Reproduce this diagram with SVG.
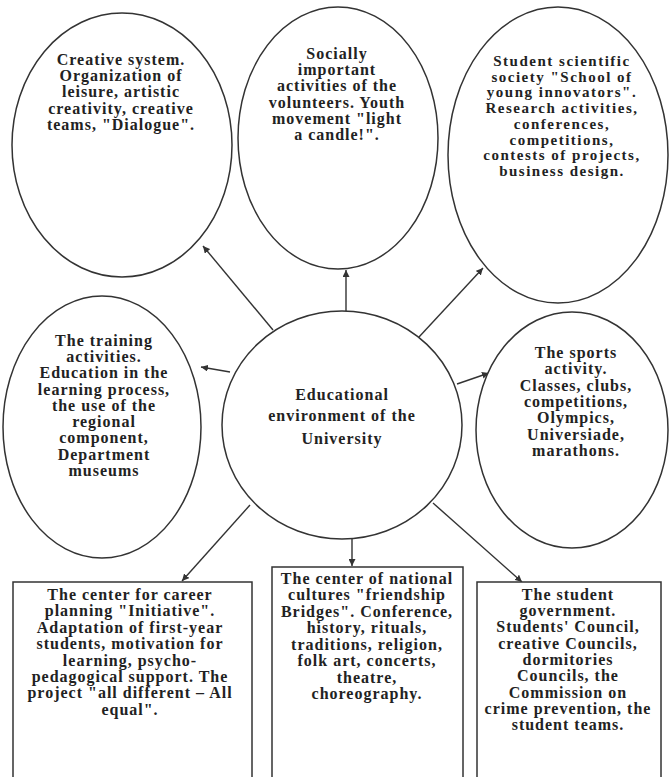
<svg xmlns="http://www.w3.org/2000/svg" width="670" height="777" viewBox="0 0 670 777">
<style>
.shape{fill:#fff;stroke:#333;stroke-width:1.5}
.t{font-family:"Liberation Serif","Times New Roman",serif;font-weight:bold;font-size:16px;letter-spacing:1px;fill:#222;text-anchor:middle}
.s{font-size:15px;letter-spacing:1.5px}
.c{stroke:#333;stroke-width:1.4;fill:none;marker-end:url(#ah)}
</style>
<defs>
<marker id="ah" viewBox="0 0 10 10" refX="10" refY="5" markerWidth="7" markerHeight="7" markerUnits="userSpaceOnUse" orient="auto">
<path d="M0,0 L10,5 L0,10 z" fill="#333"/>
</marker>
</defs>
<rect width="670" height="777" fill="#fff"/>
<g id="connectors">
<line class="c" x1="273" y1="330" x2="203" y2="246"/>
<line class="c" x1="346" y1="311" x2="346" y2="270"/>
<line class="c" x1="419" y1="337" x2="483" y2="268"/>
<line class="c" x1="230" y1="372" x2="201" y2="367"/>
<line class="c" x1="457" y1="384" x2="489" y2="373"/>
<line class="c" x1="250" y1="505" x2="182" y2="581"/>
<line class="c" x1="352" y1="539" x2="352" y2="566"/>
<line class="c" x1="433" y1="503" x2="522" y2="582"/>
</g>
<g id="creative">
<ellipse class="shape" cx="122" cy="145" rx="110" ry="132"/>
<text class="t" x="121" y="65">Creative system.</text>
<text class="t" x="121" y="81">Organization of</text>
<text class="t" x="121" y="97">leisure, artistic</text>
<text class="t" x="121" y="114">creativity, creative</text>
<text class="t" x="121" y="130">teams, "Dialogue".</text>
</g>
<g id="volunteers">
<ellipse class="shape" cx="338" cy="138" rx="100" ry="131"/>
<text class="t" x="337" y="59">Socially</text>
<text class="t" x="337" y="75">important</text>
<text class="t" x="337" y="91">activities of the</text>
<text class="t" x="337" y="108">volunteers. Youth</text>
<text class="t" x="337" y="124">movement "light</text>
<text class="t" x="337" y="140">a candle!".</text>
</g>
<g id="scientific">
<ellipse class="shape" cx="558" cy="155" rx="110" ry="148"/>
<text class="t s" x="562" y="66">Student scientific</text>
<text class="t s" x="562" y="82">society "School of</text>
<text class="t s" x="562" y="97">young innovators".</text>
<text class="t s" x="562" y="113">Research activities,</text>
<text class="t s" x="562" y="129">conferences,</text>
<text class="t s" x="562" y="145">competitions,</text>
<text class="t s" x="562" y="160">contests of projects,</text>
<text class="t s" x="562" y="176">business design.</text>
</g>
<g id="training">
<ellipse class="shape" cx="102" cy="427" rx="99" ry="131"/>
<text class="t" x="104" y="346">The training</text>
<text class="t" x="104" y="362">activities.</text>
<text class="t" x="104" y="378">Education in the</text>
<text class="t" x="104" y="395">learning process,</text>
<text class="t" x="104" y="411">the use of the</text>
<text class="t" x="104" y="427">regional</text>
<text class="t" x="104" y="443">component,</text>
<text class="t" x="104" y="460">Department</text>
<text class="t" x="104" y="476">museums</text>
</g>
<g id="center">
<ellipse class="shape" cx="342" cy="425" rx="120" ry="114"/>
<text class="t" x="342" y="400">Educational</text>
<text class="t" x="342" y="421">environment of the</text>
<text class="t" x="342" y="444">University</text>
</g>
<g id="sports">
<ellipse class="shape" cx="572" cy="430" rx="96" ry="118"/>
<text class="t" x="576" y="358">The sports</text>
<text class="t" x="576" y="374">activity.</text>
<text class="t" x="576" y="391">Classes, clubs,</text>
<text class="t" x="576" y="407">competitions,</text>
<text class="t" x="576" y="423">Olympics,</text>
<text class="t" x="576" y="440">Universiade,</text>
<text class="t" x="576" y="456">marathons.</text>
</g>
<g id="career">
<rect class="shape" x="13" y="582" width="239" height="210"/>
<text class="t" x="130" y="600">The center for career</text>
<text class="t" x="130" y="616">planning "Initiative".</text>
<text class="t" x="130" y="633">Adaptation of first-year</text>
<text class="t" x="130" y="649">students, motivation for</text>
<text class="t" x="130" y="666">learning, psycho-</text>
<text class="t" x="130" y="682">pedagogical support. The</text>
<text class="t" x="130" y="698">project "all different – All</text>
<text class="t" x="130" y="715">equal".</text>
</g>
<g id="cultures">
<rect class="shape" x="272" y="567" width="191" height="225"/>
<text class="t" x="367" y="584">The center of national</text>
<text class="t" x="367" y="600">cultures "friendship</text>
<text class="t" x="367" y="617">Bridges". Conference,</text>
<text class="t" x="367" y="633">history, rituals,</text>
<text class="t" x="367" y="650">traditions, religion,</text>
<text class="t" x="367" y="666">folk art, concerts,</text>
<text class="t" x="367" y="683">theatre,</text>
<text class="t" x="367" y="699">choreography.</text>
</g>
<g id="government">
<rect class="shape" x="477" y="582" width="184" height="210"/>
<text class="t" x="568" y="600">The student</text>
<text class="t" x="568" y="616">government.</text>
<text class="t" x="568" y="632">Students' Council,</text>
<text class="t" x="568" y="649">creative Councils,</text>
<text class="t" x="568" y="665">dormitories</text>
<text class="t" x="568" y="681">Councils, the</text>
<text class="t" x="568" y="698">Commission on</text>
<text class="t" x="568" y="714">crime prevention, the</text>
<text class="t" x="568" y="730">student teams.</text>
</g>
</svg>
